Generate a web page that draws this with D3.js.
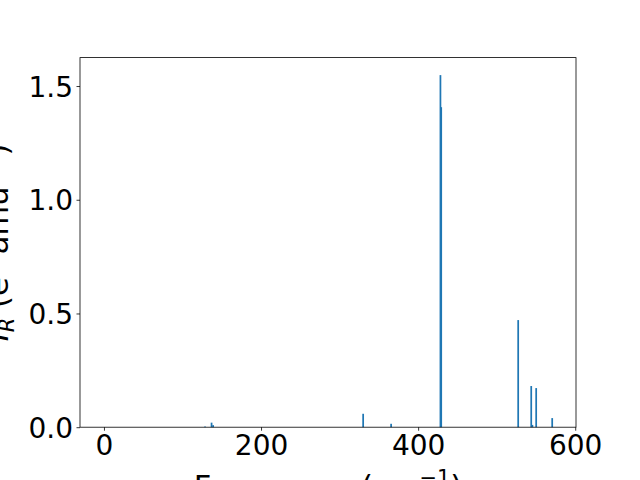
<!DOCTYPE html>
<html>
<head>
<meta charset="utf-8">
<script src="https://cdn.jsdelivr.net/npm/d3@7"></script>
<style>
body{margin:0;background:#fff;}
text{font-family:"DejaVu Sans",sans-serif;}
</style>
</head>
<body>
<div id="chart"></div>
<script>
// mode frequencies (cm^-1) and IR intensities
var freqs=[128.7,137,139,330,365.6,428.4,429.4,527.4,544,545.5,550.3,570.7];
var intensities=[0.003,0.02,0.009,0.059,0.015,1.548,1.407,0.471,0.181,0.01,0.172,0.04];
var xTicks=[0,200,400,600];
var yTicks=[0,0.5,1.0,1.5];
var barW=2.2;

var W=640,H=480;
var pLeft=80,pRight=576,pTop=57.6,pBottom=427.2;

var svg=d3.select('#chart')
  .append('svg')
    .attr('width',W)
    .attr('height',H);

var x=d3.scaleLinear().domain([-30.5,601]).range([pLeft,pRight]);
var y=d3.scaleLinear().domain([0,1.625]).range([pBottom,pTop]);

var data=freqs.map(function(f,i){return {f:f,v:intensities[i]};});

svg.append('g').selectAll('rect')
    .data(data)
  .enter().append('rect')
    .attr('x',function(d){return x(d.f-barW/2)})
    .attr('y',function(d){return y(d.v)})
    .attr('width',function(d){return x(d.f+barW/2)-x(d.f-barW/2)})
    .attr('height',function(d){return y(0)-y(d.v)})
    .style('fill','#1f77b4');

// frame
svg.append('rect')
    .attr('x',pLeft).attr('y',pTop)
    .attr('width',pRight-pLeft).attr('height',pBottom-pTop)
    .style('fill','none').style('stroke','#000').style('stroke-width',0.8);

var xAxis=svg.append('g').attr('transform','translate(0,'+pBottom+')')
    .call(d3.axisBottom(x).tickValues(xTicks).tickSize(3.5).tickPadding(3.5).tickFormat(d3.format('d')));
var yAxis=svg.append('g').attr('transform','translate('+pLeft+',0)')
    .call(d3.axisLeft(y).tickValues(yTicks).tickSize(3.5).tickPadding(3.5).tickFormat(d3.format('.1f')));

[xAxis,yAxis].forEach(function(a){
  a.select('.domain').remove();
  a.selectAll('line').style('stroke','#000').style('stroke-width',0.8);
  a.selectAll('text').style('font-family','"DejaVu Sans",sans-serif').style('font-size','28px').style('fill','#000');
});
xAxis.selectAll('text').attr('dy','0.75em');
yAxis.selectAll('text').attr('dy','0.36em');

// axis labels
var xl=svg.append('text')
    .attr('x',(pLeft+pRight)/2).attr('y',497)
    .attr('text-anchor','middle')
    .style('font-size','30.5px');
xl.append('tspan').text('Frequency (cm');
xl.append('tspan').attr('dy',-12).style('font-size','21px').text('\u22121');
xl.append('tspan').attr('dy',12).text(')');

var yl=svg.append('text')
    .attr('transform','translate(8,'+((pTop+pBottom)/2)+') rotate(-90)')
    .attr('text-anchor','middle')
    .style('font-size','30.5px');
yl.append('tspan').style('font-style','italic').text('I');
yl.append('tspan').attr('dy',6).style('font-size','21px').style('font-style','italic').text('R');
yl.append('tspan').attr('dy',-6).text(' (e');
yl.append('tspan').attr('dy',-12).style('font-size','21px').text('2');
yl.append('tspan').attr('dy',12).text(' amu');
yl.append('tspan').attr('dy',-12).style('font-size','21px').text('\u22121');
yl.append('tspan').attr('dy',12).text(')');
</script>
</body>
</html>
